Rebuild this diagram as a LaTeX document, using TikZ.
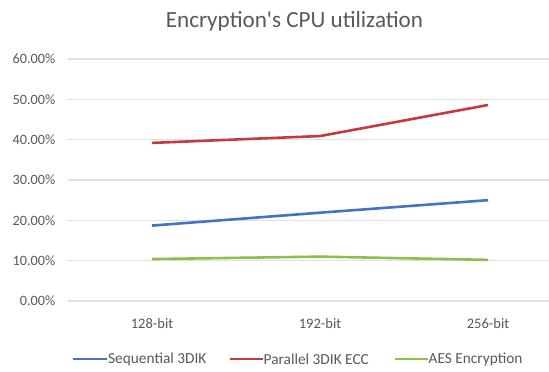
\documentclass[tikz,border=0pt]{standalone}
\usepackage{fontspec}
\setmainfont{Carlito}[Ligatures=TeXOff]
\definecolor{txtgray}{HTML}{595959}
\definecolor{gridgray}{HTML}{DDE1E1}
\definecolor{serblue}{HTML}{4273C4}
\definecolor{serred}{HTML}{C7393A}
\definecolor{sergreen}{HTML}{8CC04A}
\tikzset{
  ticklabel/.style={anchor=east, text=txtgray, font=\fontsize{14.3}{16}\selectfont, inner sep=0pt},
  catlabel/.style={anchor=center, text=txtgray, font=\fontsize{14.6}{16}\selectfont, inner sep=0pt},
  legtext/.style={anchor=west, text=txtgray, font=\fontsize{15.4}{17}\selectfont, inner sep=0pt},
  gridline/.style={draw=gridgray, line width=1.1bp},
  series/.style={line width=2.6bp, line join=round},
}
\begin{document}
\begin{tikzpicture}[x=1bp,y=-1bp]
\useasboundingbox[fill=white] (0,0) rectangle (549,371);
% title
\node[text=txtgray, font=\fontsize{23.2}{26}\selectfont, inner sep=0pt] (title) at (294.5,21) {Encryption's CPU utilization};
% gridlines and tick labels
\foreach \i/\lab in {0/0.00\%,1/10.00\%,2/20.00\%,3/30.00\%,4/40.00\%,5/50.00\%,6/60.00\%}{
  \coordinate (gl\i) at (68,{301-40.33*\i});
  \coordinate (gr\i) at (549,{301-40.33*\i});
  \draw[gridline] (gl\i) -- (gr\i);
  \node[ticklabel] (t\i) at (55.5,{301-40.33*\i}) {\lab};
}
% category labels
\node[catlabel] (c1) at (152,323) {128-bit};
\node[catlabel] (c2) at (320,323) {192-bit};
\node[catlabel] (c3) at (488,323) {256-bit};
% data points
\def\yv#1{301-4.033*#1}
\coordinate (b1) at (152,{\yv{18.7}});
\coordinate (b2) at (320,{\yv{21.9}});
\coordinate (b3) at (488,{\yv{25.0}});
\coordinate (r1) at (152,{\yv{39.2}});
\coordinate (r2) at (320,{\yv{40.9}});
\coordinate (r3) at (488,{\yv{48.6}});
\coordinate (g1) at (152,{\yv{10.4}});
\coordinate (g2) at (320,{\yv{11.0}});
\coordinate (g3) at (488,{\yv{10.2}});
\draw[series, serblue] (b1) -- (b2) -- (b3);
\draw[series, serred] (r1) -- (r2) -- (r3);
\draw[series, sergreen] (g1) -- (g2) -- (g3);
% legend
\coordinate (lb1) at (73,359); \coordinate (lb2) at (107,359);
\coordinate (lr1) at (230,359); \coordinate (lr2) at (263,359);
\coordinate (lg1) at (395,359); \coordinate (lg2) at (428,359);
\draw[series, serblue] (lb1) -- (lb2);
\draw[series, serred] (lr1) -- (lr2);
\draw[series, sergreen] (lg1) -- (lg2);
\node[legtext] (l1) at (108,359) {Sequential 3DIK};
\node[legtext] (l2) at (263.5,359) {Parallel 3DIK ECC};
\node[legtext] (l3) at (428.5,359) {AES Encryption};
\end{tikzpicture}
\end{document}
